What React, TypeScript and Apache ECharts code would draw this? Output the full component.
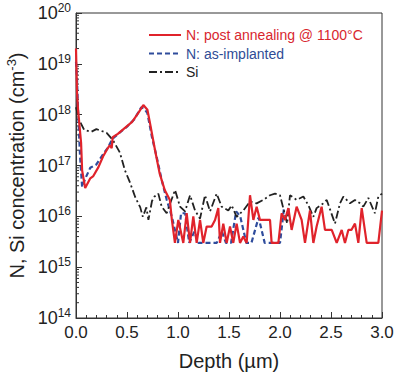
import React, { useEffect, useRef } from "react";
import * as echarts from "echarts";

// ---- data (depth in µm, concentration in cm^-3) ----
const annealDepth = [
  0, 0.01, 0.02, 0.05, 0.06, 0.09, 0.14, 0.17, 0.22, 0.265, 0.3, 0.33, 0.35, 0.36, 0.41, 0.48, 0.55, 0.61, 0.66, 0.7,
  0.725, 0.775, 0.82, 0.87, 0.92, 0.94, 0.97, 1.003, 1.052, 1.085, 1.118, 1.15, 1.183, 1.216, 1.248, 1.281, 1.33,
  1.363, 1.395, 1.412, 1.444, 1.477, 1.51, 1.542, 1.575, 1.608, 1.64, 1.673, 1.706, 1.739, 1.771, 1.804, 1.902,
  1.918, 1.984, 2.016, 2.049, 2.082, 2.114, 2.163, 2.212, 2.245, 2.294, 2.327, 2.359, 2.408, 2.441, 2.507, 2.556,
  2.605, 2.637, 2.67, 2.7, 2.735, 2.768, 2.801, 2.85, 2.964, 3.0,
];
const annealConc = [
  2e19, 2.7e18, 1.26e18, 2.75e17, 8e16, 3.6e16, 5.6e16, 6.2e16, 9.3e16, 1.5e17, 2e17, 2.5e17, 2.2e17, 3.6e17, 4.2e17,
  5.5e17, 7.2e17, 1.07e18, 1.55e18, 1.25e18, 6.9e17, 2e17, 7e16, 3.3e16, 2.1e16, 8.5e15, 3e15, 8.5e15, 3e15, 1.15e16,
  3e15, 1e16, 3e15, 8.5e15, 3e15, 6.3e15, 6.3e15, 8.5e15, 1.45e16, 3e15, 7.2e15, 3e15, 6.3e15, 3e15, 7.2e15, 3e15,
  4e15, 3e15, 2.6e16, 8.5e15, 1.55e16, 8.5e15, 8.5e15, 3e15, 3e15, 1.15e16, 8.5e15, 1.45e16, 5.4e15, 1.55e16, 8.5e15,
  3e15, 1.3e16, 3e15, 6.3e15, 1.55e16, 5.4e15, 5.4e15, 3e15, 5.4e15, 3e15, 5.4e15, 5.4e15, 7.2e15, 3e15, 1.45e16,
  3e15, 3e15, 1.3e16,
];

const implantDepth = [
  0, 0.01, 0.02, 0.04, 0.06, 0.09, 0.14, 0.2, 0.26, 0.31, 0.36, 0.42, 0.5, 0.57, 0.64, 0.67, 0.7, 0.745, 0.79, 0.84,
  0.89, 0.94, 0.97, 1.0, 1.03, 1.07, 1.11, 1.16, 1.2, 1.26, 1.38, 1.43, 1.47, 1.52, 1.57, 1.61, 1.67, 1.72, 1.79,
  1.85, 2.0, 2.04,
];
const implantConc = [
  1.1e19, 5e18, 1.2e18, 1.5e17, 3.8e16, 5.5e16, 9e16, 1.05e17, 1.6e17, 2.2e17, 3.4e17, 4.3e17, 5.8e17, 8e17, 1.4e18,
  1.3e18, 1.07e18, 3.6e17, 1.5e17, 5.2e16, 2.1e16, 9.8e15, 5.4e15, 3e15, 1.15e16, 1.15e16, 3e15, 5e15, 3e15, 3e15,
  3e15, 5e15, 3e15, 3e15, 1.25e16, 1e16, 3e15, 3e15, 9.5e15, 3e15, 3e15, 1.5e16,
];

const siDepth = [
  0, 0.03, 0.08, 0.15, 0.2, 0.3, 0.36, 0.43, 0.48, 0.53, 0.58, 0.63, 0.655, 0.69, 0.71, 0.745, 0.77, 0.807, 0.84,
  0.889, 0.971, 1.02, 1.069, 1.118, 1.167, 1.216, 1.265, 1.314, 1.379, 1.428, 1.493, 1.526, 1.575, 1.64, 1.706,
  1.771, 1.836, 1.902, 1.951, 2.0, 2.07, 2.098, 2.163, 2.229, 2.278, 2.327, 2.359, 2.425, 2.458, 2.539, 2.588,
  2.621, 2.686, 2.735, 2.784, 2.817, 2.866, 2.93, 2.964, 3.0,
];
const siConc = [
  1.4e18, 8e17, 5e17, 4.6e17, 5.2e17, 4.4e17, 3.2e17, 1.8e17, 8e16, 4.6e16, 2.4e16, 1.5e16, 9.8e15, 1.5e16, 8.5e15,
  2e16, 2.45e16, 2.8e16, 1.55e16, 1.15e16, 3.3e16, 1.55e16, 1.25e16, 2.6e16, 1.3e16, 9e15, 2.6e16, 1.25e16, 2.8e16,
  1.55e16, 1.3e16, 1.65e16, 9.8e15, 1.3e16, 1.95e16, 1.8e16, 2.1e16, 2.6e16, 2.8e16, 2.6e16, 7.2e15, 2.6e16, 2.1e16,
  2.45e16, 1.65e16, 9.8e15, 1.45e16, 1.8e16, 2.1e16, 7.2e15, 1.8e16, 2.45e16, 1.8e16, 2.1e16, 1.8e16, 1.55e16,
  2.3e16, 1.15e16, 2.45e16, 2.8e16,
];

const seriesNames = ["N: post annealing @ 1100°C", "N: as-implanted", "Si"];
const seriesColors = ["#e0232b", "#2f4c9c", "#222222"];
const legendTextColors = ["#d8262e", "#2f4c96", "#222222"];

const xTickLabels = ["0.0", "0.5", "1.0", "1.5", "2.0", "2.5", "3.0"];
// log-axis minor tick positions (mantissas within each decade)
const decades = [14, 15, 16, 17, 18, 19];
const minorMantissas = [2, 3, 4, 5, 6, 7, 8, 9];

const pairs = (d: number[], v: number[]) => d.map((x, i) => [x, v[i]]);

export default function App() {
  const ref = useRef<HTMLDivElement>(null);
  useEffect(() => {
    if (!ref.current) return;
    const chart = echarts.init(ref.current, null, { renderer: "svg" });
    const font = "Liberation Sans, Arial, sans-serif";
    const minorTickValues: number[][] = [];
    decades.forEach((e) => minorMantissas.forEach((m) => minorTickValues.push([0, m * Math.pow(10, e)])));
    chart.setOption({
      animation: false,
      textStyle: { fontFamily: font },
      grid: {
        left: 76,
        right: 13,
        top: 13,
        bottom: 55,
        outerBoundsMode: "none",
        containLabel: false,
        show: true,
        borderColor: "#333",
        borderWidth: 1,
        backgroundColor: "transparent",
      },
      legend: {
        orient: "vertical",
        left: 143,
        top: 23,
        itemWidth: 32,
        itemHeight: 14,
        itemGap: 4.5,
        itemStyle: { opacity: 0 },
        textStyle: { fontSize: 14, fontFamily: font },
        data: seriesNames.map((n, i) => ({ name: n, textStyle: { color: legendTextColors[i] } })),
      },
      xAxis: {
        type: "value",
        min: 0,
        max: 3,
        interval: 0.5,
        name: "Depth (µm)",
        nameLocation: "middle",
        nameGap: 33,
        nameTextStyle: { fontSize: 20, color: "#222", fontFamily: font },
        axisLine: { show: true, lineStyle: { color: "#333", width: 1 } },
        axisTick: { show: true, inside: true, length: 6, lineStyle: { color: "#333" } },
        minorTick: { show: true, splitNumber: 5, length: 3, lineStyle: { color: "#333" } },
        splitLine: { show: false },
        axisLabel: {
          fontSize: 17,
          color: "#222",
          margin: 6,
          formatter: (v: number) => xTickLabels[Math.round(v / 0.5)] ?? "",
        },
      },
      yAxis: {
        type: "log",
        logBase: 10,
        min: 1e14,
        max: 1e20,
        name: "{t|N, Si concentration (cm}{s|-3}{t|)}",
        nameLocation: "middle",
        nameGap: 47,
        nameRotate: 90,
        nameTextStyle: {
          color: "#222",
          rich: {
            t: { fontSize: 20, fontFamily: font, color: "#222", lineHeight: 24 },
            s: { fontSize: 13, fontFamily: font, color: "#222", verticalAlign: "top", lineHeight: 24 },
          },
        },
        axisLine: { show: true, lineStyle: { color: "#333", width: 1 } },
        axisTick: { show: true, inside: true, length: 6, lineStyle: { color: "#333" } },
        minorTick: { show: false },
        splitLine: { show: false },
        axisLabel: {
          margin: 5,
          formatter: (v: number) => `{b|10}{s|${Math.round(Math.log10(v))}}`,
          rich: {
            b: { fontSize: 18, fontFamily: font, color: "#222", lineHeight: 22 },
            s: { fontSize: 12, fontFamily: font, color: "#222", verticalAlign: "top", lineHeight: 22 },
          },
        },
      },
      series: [
        {
          name: "minorTicks",
          type: "custom",
          silent: true,
          clip: false,
          data: minorTickValues,
          renderItem: (_params: any, api: any) => {
            const p = api.coord([0, api.value(1)]);
            return {
              type: "line",
              shape: { x1: p[0], y1: p[1], x2: p[0] + 3, y2: p[1] },
              style: { stroke: "#333", lineWidth: 1 },
            };
          },
          z: 1,
        },
        {
          name: seriesNames[1],
          type: "line",
          data: pairs(implantDepth, implantConc),
          showSymbol: false,
          symbol: "none",
          lineStyle: { color: seriesColors[1], width: 2.2, type: [5, 3] },
          itemStyle: { color: seriesColors[1] },
          z: 2,
        },
        {
          name: seriesNames[2],
          type: "line",
          data: pairs(siDepth, siConc),
          showSymbol: false,
          symbol: "none",
          lineStyle: { color: seriesColors[2], width: 1.8, type: [8, 3, 2, 3] },
          itemStyle: { color: seriesColors[2] },
          z: 3,
        },
        {
          name: seriesNames[0],
          type: "line",
          data: pairs(annealDepth, annealConc),
          showSymbol: false,
          symbol: "none",
          lineStyle: { color: seriesColors[0], width: 2.2 },
          itemStyle: { color: seriesColors[0] },
          z: 4,
        },
      ],
    });
    return () => chart.dispose();
  }, []);
  return <div ref={ref} style={{ position: "fixed", left: 0, top: 0, width: 395, height: 373, background: "#fff" }} />;
}
